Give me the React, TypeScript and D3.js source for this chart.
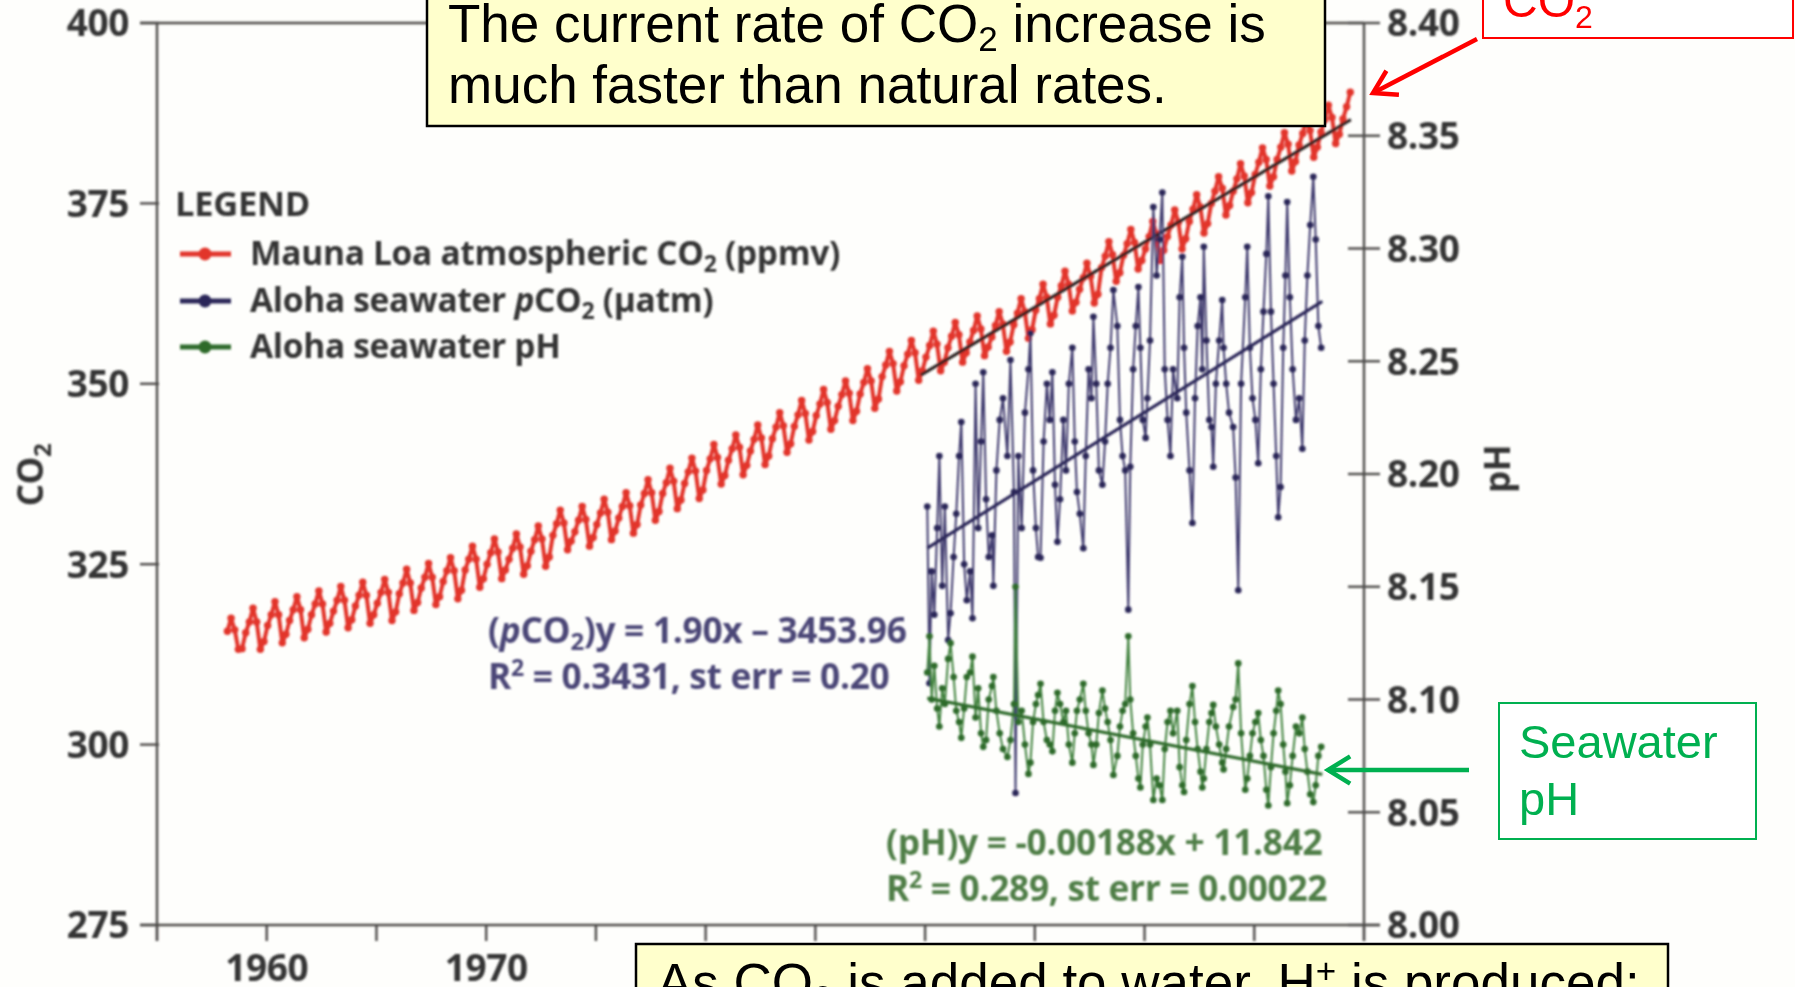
import React from 'react';
import * as d3 from 'd3';

const W = 1795;
const H = 987;

// Mauna Loa atmospheric CO2 (ppmv), every other month: Jan, Mar, May, Jul, Sep, Nov
const mloFirstYear = 1958;
const mloMonths = [1, 3, 5, 7, 9, 11];
const maunaLoaCO2: (number | null)[][] = [
  [null, 315.7, 317.5, 315.9, 313.2, 313.3], // 1958
  [315.5, 317.0, 318.9, 317.0, 313.2, 314.3],
  [316.5, 318.0, 319.8, 318.0, 314.1, 315.3],
  [317.2, 318.7, 320.5, 318.7, 314.8, 316.0],
  [318.0, 319.5, 321.3, 319.5, 315.6, 316.8],
  [318.5, 320.0, 321.9, 320.0, 316.2, 317.3],
  [319.2, 320.7, 322.5, 320.7, 316.8, 318.0],
  [319.6, 321.1, 322.9, 321.1, 317.2, 318.4],
  [320.9, 322.4, 324.3, 322.4, 318.6, 319.7],
  [321.7, 323.2, 325.1, 323.2, 319.4, 320.5],
  [322.6, 324.1, 325.9, 324.1, 320.2, 321.4],
  [324.2, 325.7, 327.5, 325.7, 321.8, 323.0],
  [325.0, 326.6, 328.5, 326.7, 323.0, 324.2], // 1970
  [325.7, 327.2, 329.2, 327.4, 323.6, 324.8],
  [326.8, 328.4, 330.3, 328.5, 324.7, 326.0],
  [329.0, 330.6, 332.5, 330.7, 327.0, 328.2],
  [329.5, 331.1, 333.0, 331.2, 327.5, 328.7],
  [330.5, 332.1, 334.0, 332.2, 328.4, 329.6],
  [331.4, 333.0, 334.9, 333.1, 329.3, 330.5],
  [333.2, 334.8, 336.7, 334.9, 331.1, 332.3],
  [334.8, 336.3, 338.3, 336.5, 332.7, 333.9],
  [336.2, 337.8, 339.7, 337.9, 334.1, 335.3],
  [338.0, 339.6, 341.6, 339.8, 336.1, 337.3], // 1980
  [339.4, 341.0, 342.9, 341.2, 337.4, 338.7],
  [340.7, 342.3, 344.3, 342.5, 338.8, 340.0],
  [342.4, 344.0, 346.0, 344.2, 340.5, 341.7],
  [344.1, 345.7, 347.7, 345.9, 342.2, 343.4],
  [345.6, 347.2, 349.2, 347.4, 343.7, 344.9],
  [346.9, 348.5, 350.4, 348.7, 344.9, 346.2],
  [348.6, 350.2, 352.1, 350.4, 346.6, 347.9],
  [351.0, 352.6, 354.5, 352.8, 349.0, 350.3],
  [352.5, 354.1, 356.0, 354.3, 350.5, 351.8],
  [353.7, 355.3, 357.3, 355.5, 351.8, 353.0], // 1990
  [355.0, 356.6, 358.5, 356.8, 353.0, 354.3],
  [355.8, 357.4, 359.4, 357.6, 353.9, 355.1],
  [356.5, 358.1, 360.0, 358.3, 354.5, 355.8],
  [358.2, 359.8, 361.8, 360.0, 356.3, 357.5],
  [360.2, 361.8, 363.8, 362.0, 358.3, 359.5],
  [362.0, 363.6, 365.6, 363.8, 360.1, 361.3],
  [363.1, 364.7, 366.7, 364.9, 361.2, 362.4],
  [366.1, 367.7, 369.7, 367.9, 364.2, 365.4],
  [367.8, 369.4, 371.4, 369.6, 365.9, 367.1],
  [368.7, 370.4, 372.5, 370.8, 367.1, 368.5], // 2000
  [370.4, 372.0, 374.1, 372.4, 368.7, 370.1],
  [372.5, 374.2, 376.2, 374.5, 370.9, 372.2],
  [375.0, 376.7, 378.7, 377.1, 373.4, 374.7],
  [376.7, 378.4, 380.5, 378.8, 375.1, 376.5],
  [379.0, 380.7, 382.7, 381.1, 377.4, 378.7],
  [381.1, 382.8, 384.8, 383.2, 379.5, 380.8],
  [383.1, 384.7, 386.8, 385.1, 381.4, 382.8],
  [384.9, 386.6, 388.6, 386.9, 383.3, 384.6],
  [386.7, 388.4, 390.4, null, null, null], // 2009
];

// straight-line fit through the Mauna Loa record since 1990
const mloFitYears = [1989.8, 2009.4];
const mloFitCO2 = [351.2, 386.6];

// Station ALOHA cruises: decimal year, seawater pCO2 (µatm), seawater pH
const alohaYears = [
  1990.10, 1990.20, 1990.30, 1990.42, 1990.55, 1990.65, 1990.78, 1990.90,
  1991.05, 1991.16, 1991.30, 1991.42, 1991.55, 1991.65, 1991.78, 1991.90,
  1992.05, 1992.16, 1992.30, 1992.42, 1992.55, 1992.65, 1992.78, 1992.90,
  1993.05, 1993.11, 1993.25, 1993.40, 1993.55, 1993.75, 1993.89,
  1994.05, 1994.12, 1994.25, 1994.40, 1994.55, 1994.71, 1994.80, 1994.92,
  1995.05, 1995.15, 1995.26, 1995.40, 1995.55, 1995.68, 1995.80, 1995.92,
  1996.03, 1996.15, 1996.30, 1996.42, 1996.55, 1996.71, 1996.82, 1996.92,
  1997.05, 1997.21, 1997.32, 1997.45, 1997.58, 1997.67, 1997.80, 1997.92,
  1998.08, 1998.20, 1998.32, 1998.45, 1998.58, 1998.76, 1998.88,
  1999.00, 1999.12, 1999.26, 1999.35, 1999.48, 1999.60, 1999.72, 1999.81, 1999.92,
  2000.05, 2000.13, 2000.25, 2000.40, 2000.55, 2000.68, 2000.81, 2000.92,
  2001.05, 2001.18, 2001.30, 2001.49, 2001.60, 2001.72, 2001.80, 2001.90,
  2002.05, 2002.18, 2002.30, 2002.42, 2002.55, 2002.63, 2002.70, 2002.82, 2002.95,
  2003.05, 2003.13, 2003.25, 2003.40, 2003.54, 2003.60, 2003.72, 2003.85,
  2004.04, 2004.15, 2004.27, 2004.40, 2004.59, 2004.68, 2004.80, 2004.92,
  2005.05, 2005.18, 2005.30, 2005.42, 2005.55, 2005.64, 2005.76, 2005.88,
  2006.00, 2006.09, 2006.20, 2006.32, 2006.42, 2006.50, 2006.62, 2006.75, 2006.90,
  2007.05, 2007.19, 2007.30, 2007.42, 2007.55, 2007.69, 2007.80, 2007.92,
  2008.05,
];
const alohaPCO2 = [
  333, 308.5, 324, 318, 330, 340, 322, 333,
  314.5, 318.2, 326, 332, 340, 344.7, 325, 320,
  324, 317.5, 350, 330, 342, 351.6, 334, 326,
  329, 322, 338, 345, 348, 340, 353.3,
  335, 293.3, 340, 330, 346, 352, 357, 338,
  330, 326, 325.9, 342, 350, 345, 351.6, 336,
  328.1, 334, 345, 338, 350, 355, 342, 335,
  332, 327.2, 340, 352, 348, 359.3, 350, 338,
  336, 342, 350, 355, 363, 358, 345,
  340, 338, 318.7, 338.5, 352, 358, 363.4, 355, 345,
  342.5, 348, 356, 374.5, 365, 370, 376.5, 352,
  345, 340, 352, 348, 362, 367.6, 355, 346,
  338, 330.7, 348, 358, 362, 352, 369, 356, 345,
  344, 338.5, 350, 356, 361.6, 355, 350, 346,
  344, 337, 321.4, 350, 362, 369, 355, 348,
  345, 339, 352, 360, 368, 376, 360, 350,
  340, 331.5, 335.7, 355, 365, 375.2, 362, 352, 345,
  348, 341, 356, 365, 372, 378.7, 370, 358,
  355,
];
const alohaPH = [
  8.112, 8.128, 8.100, 8.115, 8.096, 8.088, 8.105, 8.098,
  8.118, 8.125, 8.110, 8.095, 8.090, 8.083, 8.096, 8.110,
  8.112, 8.119, 8.092, 8.105, 8.085, 8.079, 8.082, 8.100,
  8.106, 8.110, 8.095, 8.085, 8.078, 8.0745, 8.082,
  8.098, 8.150, 8.090, 8.095, 8.080, 8.067, 8.072, 8.090,
  8.098, 8.102, 8.107, 8.090, 8.082, 8.080, 8.077, 8.095,
  8.103, 8.098, 8.090, 8.095, 8.080, 8.072, 8.085, 8.095,
  8.100, 8.107, 8.095, 8.085, 8.080, 8.071, 8.080, 8.094,
  8.104, 8.096, 8.090, 8.082, 8.0665, 8.075, 8.088,
  8.095, 8.098, 8.128, 8.100, 8.085, 8.075, 8.065, 8.061, 8.080,
  8.088, 8.092, 8.080, 8.0554, 8.065, 8.062, 8.0554, 8.078,
  8.090, 8.095, 8.085, 8.095, 8.070, 8.062, 8.059, 8.082,
  8.098, 8.106, 8.090, 8.078, 8.068, 8.061, 8.065, 8.078, 8.090,
  8.094, 8.0976, 8.088, 8.080, 8.072, 8.069, 8.078, 8.088,
  8.0967, 8.100, 8.116, 8.085, 8.060, 8.065, 8.075, 8.085,
  8.090, 8.094, 8.082, 8.075, 8.060, 8.053, 8.070, 8.085,
  8.095, 8.104, 8.098, 8.080, 8.068, 8.054, 8.062, 8.075, 8.088,
  8.085, 8.092, 8.078, 8.068, 8.058, 8.0545, 8.062, 8.075,
  8.079,
];

// printed regression coefficients (x = year)
const pco2Slope = 1.90;
const pco2Intercept = -3453.96;
const phSlope = -0.00188;
const phIntercept = 11.842;
const fitYears = [1990.1, 2008.1];

const co2Ticks = [275, 300, 325, 350, 375, 400];
const phTicks = [8.0, 8.05, 8.1, 8.15, 8.2, 8.25, 8.3, 8.35, 8.4];
const yearTicks = [1955, 1960, 1965, 1970, 1975, 1980, 1985, 1990, 1995, 2000, 2005, 2010];
const yearLabels = [1960, 1970];

const CHART_FONT = "'Open Sans', 'DejaVu Sans', sans-serif";
const NOTE_FONT = "'Liberation Sans', Arial, sans-serif";

const RED = '#e2342c';
const NAVY = '#2c2858';
const NAVY_LINE = '#3f3b6e';
const GREEN = '#2d6b2b';
const GREEN_LINE = '#43833f';
const AXIS = '#4d4b4a';
const TEXT = '#353535';

type Pt = { t: number; v: number };

function arrowHead(x1: number, y1: number, x2: number, y2: number, len: number, ang: number) {
  const a = Math.atan2(y1 - y2, x1 - x2);
  const p1 = [x2 + len * Math.cos(a + ang), y2 + len * Math.sin(a + ang)];
  const p2 = [x2 + len * Math.cos(a - ang), y2 + len * Math.sin(a - ang)];
  return `M${p1[0]},${p1[1]}L${x2},${y2}L${p2[0]},${p2[1]}`;
}

// text with a lowered (dy > 0) or raised (dy < 0) small run in the middle
function Shifted({ pre, small, post, size, dy }: { pre: React.ReactNode; small: string; post?: string; size: number; dy: number }) {
  return (
    <>
      {pre}
      <tspan fontSize={size} dy={dy}>
        {small}
      </tspan>
      {post ? <tspan dy={-dy}>{post}</tspan> : null}
    </>
  );
}

export default function App() {
  const x = d3.scaleLinear().domain([1955, 2010]).range([157, 1364]);
  const yC = d3.scaleLinear().domain([275, 400]).range([925, 23]);
  const yP = d3.scaleLinear().domain([8.0, 8.4]).range([925, 23]);

  const mloPts: Pt[] = [];
  maunaLoaCO2.forEach((row, i) =>
    row.forEach((v, j) => {
      if (v != null) mloPts.push({ t: mloFirstYear + i + (mloMonths[j] - 0.5) / 12, v });
    })
  );
  const pco2Pts: Pt[] = alohaYears.map((t, i) => ({ t, v: alohaPCO2[i] }));
  const phPts: Pt[] = alohaYears.map((t, i) => ({ t, v: alohaPH[i] }));

  const lineC = d3.line<Pt>().x((d) => x(d.t)).y((d) => yC(d.v));
  const lineP = d3.line<Pt>().x((d) => x(d.t)).y((d) => yP(d.v));

  const mloFit: Pt[] = mloFitYears.map((t, i) => ({ t, v: mloFitCO2[i] }));
  const pco2Fit: Pt[] = fitYears.map((t) => ({ t, v: pco2Slope * t + pco2Intercept }));
  const phFit: Pt[] = fitYears.map((t) => ({ t, v: phSlope * t + phIntercept }));

  const left = x(1955);
  const right = x(2010);
  const top = yC(400);
  const bottom = yC(275);

  return (
    <div style={{ position: 'absolute', left: 0, top: 0, width: W, height: H, overflow: 'hidden' }}>
      <svg width={W} height={H} viewBox={`0 0 ${W} ${H}`} style={{ display: 'block', background: '#fefefc' }}>
        <defs>
          <filter id="soft" x="-5%" y="-5%" width="110%" height="110%">
            <feGaussianBlur stdDeviation="0.8" />
          </filter>
        </defs>

        <g filter="url(#soft)">
          {/* frame */}
          <g stroke={AXIS} strokeWidth={2.4} fill="none">
            <line x1={left} y1={top} x2={left} y2={bottom + 16} />
            <line x1={right} y1={top} x2={right} y2={bottom + 16} />
            <line x1={left - 17} y1={top} x2={right} y2={top} />
            <line x1={left - 17} y1={bottom} x2={right + 16} y2={bottom} />
            {co2Ticks.map((t) => (
              <line key={'lt' + t} x1={left - 17} x2={left + 2} y1={yC(t)} y2={yC(t)} />
            ))}
            {phTicks.map((t) => (
              <line key={'rt' + t} x1={right - 16} x2={right + 16} y1={yP(t)} y2={yP(t)} />
            ))}
            {yearTicks.map((t) => (
              <line key={'xt' + t} x1={x(t)} x2={x(t)} y1={bottom} y2={bottom + 16} />
            ))}
          </g>

          <g fontFamily={CHART_FONT} fontWeight={700} fill={TEXT} fontSize={37} letterSpacing={-0.4}>
            {co2Ticks.map((t) => (
              <text key={'ll' + t} x={left - 28} y={yC(t)} dy="0.36em" textAnchor="end">
                {t}
              </text>
            ))}
            {phTicks.map((t) => (
              <text key={'rl' + t} x={right + 23} y={yP(t)} dy="0.36em">
                {d3.format('.2f')(t)}
              </text>
            ))}
            {yearLabels.map((t) => (
              <text key={'xl' + t} x={x(t)} y={981} textAnchor="middle">
                {t}
              </text>
            ))}
            <text transform="translate(43,475) rotate(-90)" textAnchor="middle" fontSize={35}>
              <Shifted pre="CO" small="2" size={24} dy={8} />
            </text>
            <text transform="translate(1510,469) rotate(-90)" textAnchor="middle" fontSize={35}>
              pH
            </text>
          </g>

          {/* Mauna Loa record */}
          <path d={lineC(mloPts) || ''} fill="none" stroke={RED} strokeWidth={4} strokeLinejoin="round" />
          <g fill={RED}>
            {mloPts.map((d, i) => (
              <circle key={'m' + i} cx={x(d.t)} cy={yC(d.v)} r={3.7} />
            ))}
          </g>
          <path d={lineC(mloFit) || ''} stroke="#2b2420" strokeWidth={3.2} fill="none" />

          {/* ALOHA pCO2 */}
          <path d={lineC(pco2Pts) || ''} fill="none" stroke={NAVY_LINE} strokeWidth={2} />
          <g fill={NAVY}>
            {pco2Pts.map((d, i) => (
              <circle key={'c' + i} cx={x(d.t)} cy={yC(d.v)} r={3.3} />
            ))}
          </g>
          <path d={lineC(pco2Fit) || ''} stroke={NAVY} strokeWidth={3.2} fill="none" />

          {/* ALOHA pH */}
          <path d={lineP(phPts) || ''} fill="none" stroke={GREEN_LINE} strokeWidth={2} />
          <g fill={GREEN}>
            {phPts.map((d, i) => (
              <circle key={'p' + i} cx={x(d.t)} cy={yP(d.v)} r={3.3} />
            ))}
          </g>
          <path d={lineP(phFit) || ''} stroke={GREEN} strokeWidth={3.2} fill="none" />

          {/* legend */}
          <g fontFamily={CHART_FONT} fontWeight={700} fontSize={33.5} fill={TEXT} letterSpacing={-0.3}>
            <text x={175} y={216} fontSize={34.5}>
              LEGEND
            </text>
            {[
              { c: RED, y: 265 },
              { c: NAVY, y: 312 },
              { c: GREEN, y: 358 },
            ].map((it, i) => (
              <g key={'lg' + i}>
                <line x1={180} x2={231} y1={it.y - 11} y2={it.y - 11} stroke={it.c} strokeWidth={5} />
                <circle cx={205} cy={it.y - 11} r={6.5} fill={it.c} />
              </g>
            ))}
            <text x={250} y={265}>
              <Shifted pre="Mauna Loa atmospheric CO" small="2" post=" (ppmv)" size={23} dy={7} />
            </text>
            <text x={250} y={312}>
              <Shifted
                pre={
                  <>
                    Aloha seawater <tspan fontStyle="italic">p</tspan>CO
                  </>
                }
                small="2"
                post=" (µatm)"
                size={23}
                dy={7}
              />
            </text>
            <text x={250} y={358}>Aloha seawater pH</text>
          </g>

          {/* fit equations */}
          <g fontFamily={CHART_FONT} fontWeight={700} fontSize={35.3} letterSpacing={-0.3}>
            <g fill="#4b4777">
              <text x={488} y={643}>
                <Shifted
                  pre={
                    <>
                      (<tspan fontStyle="italic">p</tspan>CO
                    </>
                  }
                  small="2"
                  post=")y = 1.90x – 3453.96"
                  size={24}
                  dy={7}
                />
              </text>
              <text x={488} y={689}>
                <Shifted pre="R" small="2" post=" = 0.3431, st err = 0.20" size={23} dy={-13} />
              </text>
            </g>
            <g fill="#4f7e46">
              <text x={886} y={855}>(pH)y = -0.00188x + 11.842</text>
              <text x={886} y={901}>
                <Shifted pre="R" small="2" post=" = 0.289, st err = 0.00022" size={23} dy={-13} />
              </text>
            </g>
          </g>
        </g>

        {/* callouts */}
        <g fontFamily={NOTE_FONT}>
          <rect x={427} y={-10} width={898} height={136} fill="#ffffcc" stroke="#000" strokeWidth={2.5} />
          <text x={448} y={42} fontSize={53} fill="#000">
            <Shifted pre="The current rate of CO" small="2" post=" increase is" size={35} dy={9} />
          </text>
          <text x={448} y={103} fontSize={53} fill="#000">
            much faster than natural rates.
          </text>

          <rect x={1483} y={-10} width={310} height={48} fill="#fff" stroke="#ff0000" strokeWidth={2} />
          <text x={1503} y={17} fontSize={48} fill="#ff0000">
            <Shifted pre="CO" small="2" size={32} dy={11} />
          </text>
          <path d="M1477,39L1373,93" stroke="#ff0000" strokeWidth={4.5} fill="none" />
          <path d={arrowHead(1477, 39, 1373, 93, 26, 0.55)} stroke="#ff0000" strokeWidth={4.5} fill="none" />

          <rect x={1499} y={703} width={257} height={136} fill="#fff" stroke="#00b050" strokeWidth={2} />
          <text x={1519} y={758} fontSize={47} fill="#00b050">
            Seawater
          </text>
          <text x={1519} y={815} fontSize={47} fill="#00b050">
            pH
          </text>
          <path d="M1469,770L1328,770" stroke="#00b050" strokeWidth={4.5} fill="none" />
          <path d={arrowHead(1469, 770, 1328, 770, 26, 0.55)} stroke="#00b050" strokeWidth={4.5} fill="none" />

          <rect x={636} y={944} width={1032} height={80} fill="#ffffcc" stroke="#000" strokeWidth={2.5} />
          <text x={657} y={1001} fontSize={53} fill="#000">
            <Shifted pre="As CO" small="2" post=" is added to water, H" size={35} dy={9} />
            <tspan fontSize={35} dy={-18}>
              +
            </tspan>
            <tspan dy={18}> is produced:</tspan>
          </text>
        </g>
      </svg>
    </div>
  );
}
